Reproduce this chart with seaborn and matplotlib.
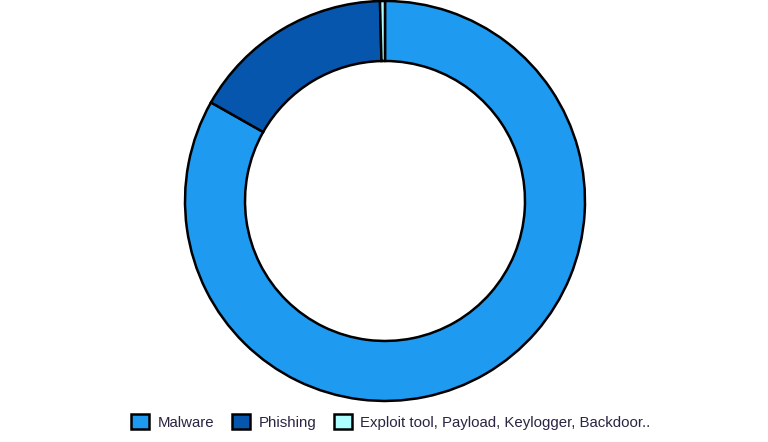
import matplotlib
matplotlib.use("Agg")
import matplotlib.pyplot as plt
import seaborn as sns

sns.set_theme(style="white")
plt.rcParams['font.family'] = ['Liberation Sans', 'DejaVu Sans']

# data
labels = ["Malware", "Phishing", "Exploit tool, Payload, Keylogger, Backdoor.."]
values = [83.2, 16.4, 0.4]
colors = ["#1E9AF0", "#0756AE", "#AEFDFF"]

fig = plt.figure(figsize=(7.68, 4.42), dpi=100)
ax = fig.add_axes([0.2409, 0.0928, 0.5208, 0.905])

wedges, _ = ax.pie(values, colors=colors, startangle=90, counterclock=False,
                   radius=1.0,
                   wedgeprops=dict(width=0.3, edgecolor="black", linewidth=1.8))
ax.set_xlim(-1, 1)
ax.set_ylim(-1, 1)
ax.set_aspect("equal")
ax.axis("off")

leg = fig.legend(wedges, labels, loc="center", bbox_to_anchor=(0.509, 0.046),
                 ncol=3, frameon=False, fontsize=10.8, handlelength=1.2,
                 handleheight=1.2, handletextpad=0.55, columnspacing=1.2)
for t in leg.get_texts():
    t.set_color("#2b2442")

fig.savefig("out.png", dpi=100)
